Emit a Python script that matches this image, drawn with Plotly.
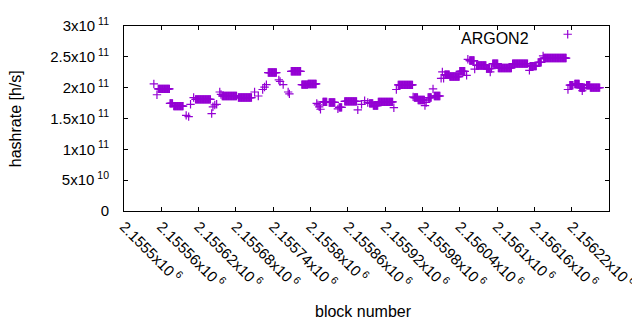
import plotly.graph_objects as go

# Runs of consecutive blocks sharing the same hashrate estimate
run_first = [2155548, 2155553, 2155555, 2155574, 2155580, 2155600, 2155604, 2155607, 2155612, 2155615,
             2155641, 2155643, 2155646, 2155649, 2155654, 2155656, 2155658, 2155684, 2155710, 2155716,
             2155723, 2155726, 2155729, 2155732, 2155749, 2155751, 2155756, 2155764, 2155766, 2155769,
             2155786, 2155796, 2155810, 2155812, 2155814, 2155816, 2155820, 2155830, 2155844, 2155846,
             2155855, 2155876, 2155882, 2155887, 2155892, 2155895, 2155901, 2155909, 2155934, 2155938,
             2155941, 2155965, 2155967, 2155973, 2155984, 2155986, 2155989, 2155997, 2155999, 2156010,
             2156012, 2156014, 2156016, 2156024, 2156040, 2156051, 2156053, 2156056, 2156064, 2156067,
             2156083, 2156089, 2156091, 2156093, 2156102, 2156125, 2156152, 2156153, 2156166, 2156174,
             2156175, 2156214, 2156217, 2156225, 2156233, 2156237, 2156244, 2156250]
run_last = [2155548, 2155553, 2155573, 2155578, 2155595, 2155600, 2155604, 2155607, 2155612, 2155639,
            2155641, 2155643, 2155646, 2155649, 2155654, 2155656, 2155681, 2155705, 2155710, 2155716,
            2155723, 2155726, 2155729, 2155745, 2155749, 2155751, 2155756, 2155764, 2155766, 2155784,
            2155795, 2155809, 2155810, 2155812, 2155814, 2155816, 2155826, 2155839, 2155844, 2155850,
            2155874, 2155876, 2155882, 2155887, 2155892, 2155900, 2155908, 2155932, 2155934, 2155938,
            2155964, 2155965, 2155972, 2155983, 2155984, 2155986, 2155994, 2155997, 2156008, 2156010,
            2156012, 2156014, 2156023, 2156039, 2156048, 2156051, 2156053, 2156063, 2156064, 2156082,
            2156088, 2156089, 2156091, 2156101, 2156123, 2156149, 2156152, 2156163, 2156171, 2156174,
            2156211, 2156214, 2156222, 2156232, 2156241, 2156237, 2156249, 2156265]
run_hashrate = [2.06e11, 1.885e11, 1.98e11, 1.745e11, 1.70e11, 1.55e11, 1.53e11, 1.73e11, 1.84e11, 1.81e11,
                1.58e11, 1.69e11, 1.72e11, 1.73e11, 1.93e11, 1.89e11, 1.865e11, 1.84e11, 1.93e11, 1.865e11,
                1.97e11, 2.01e11, 2.05e11, 2.245e11, 2.125e11, 2.10e11, 2.05e11, 1.93e11, 1.90e11, 2.265e11,
                2.05e11, 2.06e11, 1.745e11, 1.72e11, 1.69e11, 1.65e11, 1.77e11, 1.76e11, 1.656e11, 1.68e11,
                1.777e11, 1.64e11, 1.73e11, 1.79e11, 1.76e11, 1.745e11, 1.71e11, 1.77e11, 1.675e11, 1.97e11,
                2.045e11, 1.85e11, 1.84e11, 1.80e11, 1.71e11, 1.76e11, 1.84e11, 1.98e11, 1.865e11, 2.15e11,
                2.255e11, 2.15e11, 2.21e11, 2.18e11, 2.265e11, 2.20e11, 2.46e11, 2.44e11, 2.30e11, 2.36e11,
                2.31e11, 2.255e11, 2.31e11, 2.39e11, 2.32e11, 2.39e11, 2.28e11, 2.35e11, 2.41e11, 2.515e11,
                2.48e11, 1.97e11, 2.04e11, 2.06e11, 2.00e11, 1.95e11, 2.04e11, 2.00e11]

x_tick_values = [2155500, 2155560, 2155620, 2155680, 2155740, 2155800, 2155860,
                 2155920, 2155980, 2156040, 2156100, 2156160, 2156220, 2156280]
x_tick_labels = ["2.1555", "2.15556", "2.15562", "2.15568", "2.15574", "2.1558", "2.15586",
                 "2.15592", "2.15598", "2.15604", "2.1561", "2.15616", "2.15622", "2.15628"]
y_tick_values = [0, 5e10, 1e11, 1.5e11, 2e11, 2.5e11, 3e11]
y_tick_labels = ["0", "5x10<sup> 10</sup>", "1x10<sup> 11</sup>", "1.5x10<sup> 11</sup>",
                 "2x10<sup> 11</sup>", "2.5x10<sup> 11</sup>", "3x10<sup> 11</sup>"]

blocks, hashrate = [], []
for a, b, v in zip(run_first, run_last, run_hashrate):
    for blk in range(a, b + 1):
        blocks.append(blk)
        hashrate.append(v)

COLOR = "#9400D3"
FONT = "Liberation Sans, Arial, sans-serif"

# The page body has an 8px default margin, so the figure is 8px smaller and offset.
fig = go.Figure()
fig.add_trace(go.Scatter(
    x=blocks, y=hashrate, mode="markers", name=" ",
    marker=dict(symbol="cross-thin", size=6, line=dict(color=COLOR, width=1.2), color=COLOR),
    showlegend=True,
))

fig.update_layout(
    width=632, height=322,
    margin=dict(l=116, r=31, t=11, b=119),
    plot_bgcolor="white", paper_bgcolor="white",
    font=dict(family=FONT, size=15, color="black"),
    legend=dict(x=(548 - 124.3) / 485, y=(211 - 28) / 192, xanchor="left", yanchor="middle",
                bgcolor="rgba(0,0,0,0)", font=dict(size=14)),
    xaxis=dict(range=[2155500, 2156280], tickvals=x_tick_values,
               ticktext=[t + "x10<sup> 6</sup>" for t in x_tick_labels],
               tickangle=45, ticks="inside", ticklen=4, tickcolor="black",
               showline=True, linecolor="black", linewidth=1, mirror="ticks",
               showgrid=False, zeroline=False, tickfont=dict(size=15),
               automargin=False, ticklabelstandoff=0),
    yaxis=dict(range=[0, 3e11], tickvals=y_tick_values, ticktext=y_tick_labels,
               ticks="inside", ticklen=4, tickcolor="black",
               showline=True, linecolor="black", linewidth=1, mirror="ticks",
               showgrid=False, zeroline=False, tickfont=dict(size=15),
               automargin=False, ticklabelstandoff=11),
    annotations=[
        dict(text="ARGON2", xref="paper", yref="paper", x=(531 - 124.3) / 485, y=(211 - 32) / 192,
             xanchor="right", yanchor="middle", showarrow=False, font=dict(size=16)),
        dict(text="hashrate [h/s]", xref="paper", yref="paper", x=(16 - 124.3) / 485, y=0.5,
             xanchor="center", yanchor="middle", textangle=-90, showarrow=False, font=dict(size=16)),
        dict(text="block number", xref="paper", yref="paper", x=(364 - 124.3) / 485, y=(211 - 315) / 192,
             xanchor="center", yanchor="middle", showarrow=False, font=dict(size=16)),
    ],
)

fig.write_html("out.html")
